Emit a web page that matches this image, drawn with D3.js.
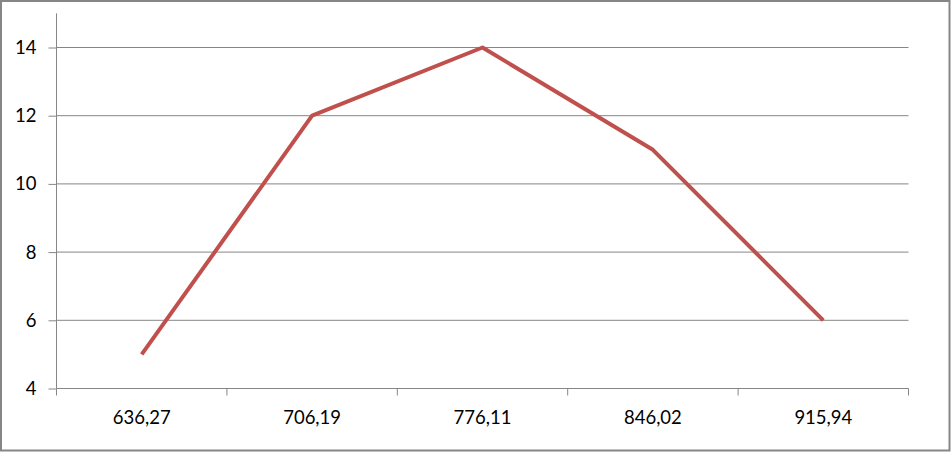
<!DOCTYPE html>
<html><head><meta charset="utf-8">
<script src="https://cdn.jsdelivr.net/npm/d3@7"></script>
<style>body{margin:0;background:#fff}svg{display:block}</style>
</head><body>
<script>
const categories = ["636,27","706,19","776,11","846,02","915,94"];
const values = [5,12,14,11,6];
const yTicks = [4,6,8,10,12,14];

const W = 951, H = 452;
const svg = d3.select("body").append("svg").attr("width", W).attr("height", H);
svg.append("rect").attr("x",1).attr("y",1).attr("width",W-2.5).attr("height",H-2.5)
  .attr("fill","#fff").attr("stroke","#868686").attr("stroke-width",2);

const left = 56.5, right = 908.5;
const x = d3.scaleBand().domain(categories).range([left, right]);
const y = d3.scaleLinear().domain([4,14]).range([388.5, 47.5]);
const font = "Lato, 'Liberation Sans', sans-serif";
const grid = "#868686";

// gridlines
svg.append("g").selectAll("line").data(yTicks.filter(d=>d>4)).join("line")
  .attr("x1", left).attr("x2", right).attr("y1", d=>y(d)).attr("y2", d=>y(d))
  .attr("stroke", grid).attr("stroke-width",1);

// y axis
const yAxis = svg.append("g").attr("transform",`translate(${left},0)`)
  .call(d3.axisLeft(y).tickValues(yTicks).tickSize(8).tickPadding(12).tickFormat(d3.format("d")));
yAxis.select(".domain").remove();
yAxis.append("line").attr("x1",0).attr("x2",0).attr("y1",y(15)).attr("y2",y(4)).attr("stroke",grid);
yAxis.selectAll(".tick line").attr("stroke",grid);
yAxis.selectAll(".tick text").attr("font-family",font).attr("font-size",18.5).attr("fill","#000");

// x axis
const xAxis = svg.append("g").attr("transform",`translate(0,${y(4)})`)
  .call(d3.axisBottom(x).tickSize(0).tickPadding(22));
xAxis.select(".domain").attr("stroke",grid).attr("d",`M${left},0H${right}`);
xAxis.selectAll(".tick text").attr("font-family",font).attr("font-size",18.5).attr("fill","#000");
const edges = categories.map(c=>x(c)).concat([right]);
xAxis.append("g").selectAll("line").data(edges).join("line")
  .attr("x1",d=>d).attr("x2",d=>d).attr("y1",0).attr("y2",7).attr("stroke",grid);

// line
const line = d3.line().x((d,i)=>x(categories[i])+x.bandwidth()/2).y(d=>y(d));
svg.append("path").datum(values).attr("d",line).attr("fill","none")
  .attr("stroke","#C0504D").attr("stroke-width",4).attr("stroke-linejoin","round");
</script>
</body></html>
